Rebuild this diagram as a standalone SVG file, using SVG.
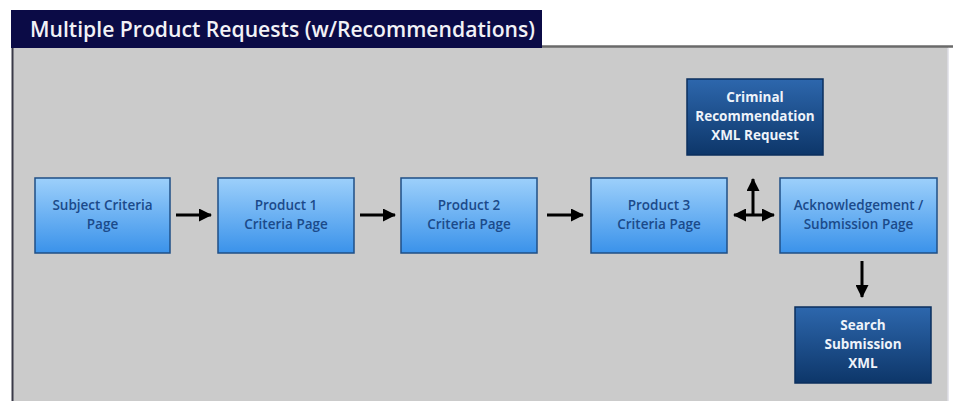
<svg xmlns="http://www.w3.org/2000/svg" width="953" height="401" viewBox="0 0 953 401">
<style>
.lt{fill:url(#gLight);stroke:#1f4f86;stroke-width:1.5}
.dk{fill:url(#gDark);stroke:#0b2f5e;stroke-width:1.5}
.tl{font-family:"Open Sans","Liberation Sans",sans-serif;font-weight:600;font-size:13.5px;fill:#1b4a8a;text-anchor:middle}
.td{font-family:"Open Sans","Liberation Sans",sans-serif;font-weight:700;font-size:13.5px;fill:#eef3fa;text-anchor:middle}
.ar{stroke:#000;stroke-width:3;fill:none}
</style>
<defs>
<linearGradient id="gLight" x1="0" y1="0" x2="0" y2="1">
<stop offset="0" stop-color="#9dd0fb"/>
<stop offset="1" stop-color="#3a92ea"/>
</linearGradient>
<linearGradient id="gDark" x1="0" y1="0" x2="0" y2="1">
<stop offset="0" stop-color="#2d67ad"/>
<stop offset="1" stop-color="#0d3669"/>
</linearGradient>
<marker id="ah" markerUnits="userSpaceOnUse" markerWidth="13" markerHeight="13" refX="12" refY="6.5" orient="auto-start-reverse">
<path d="M0,0 L13,6.5 L0,13 z" fill="#000"/>
</marker>
</defs>
<rect x="0" y="0" width="953" height="401" fill="#ffffff"/>
<g id="panel">
<rect x="12" y="46" width="936" height="360" fill="#cbcbcb"/>
<line x1="540" y1="46.5" x2="953" y2="46.5" stroke="#6a6a6a" stroke-width="2.5"/>
<line x1="12.5" y1="46" x2="12.5" y2="401" stroke="#3a3a48" stroke-width="2"/>
<line x1="948" y1="48" x2="948" y2="401" stroke="#dedee6" stroke-width="1.5"/>
</g>
<g id="title">
<rect x="11" y="10" width="531" height="38" fill="#0b0b46"/>
<text x="30" y="37" font-family="'Open Sans','Liberation Sans',sans-serif" font-weight="600" font-size="21" fill="#f2f2f6" textLength="505" lengthAdjust="spacingAndGlyphs">Multiple Product Requests (w/Recommendations)</text>
</g>
<g id="connectors">
<line class="ar" x1="176" y1="215" x2="211" y2="215" marker-end="url(#ah)"/>
<line class="ar" x1="360" y1="215" x2="395" y2="215" marker-end="url(#ah)"/>
<line class="ar" x1="547" y1="215" x2="583" y2="215" marker-end="url(#ah)"/>
<line class="ar" x1="734" y1="215" x2="774" y2="215" marker-start="url(#ah)" marker-end="url(#ah)"/>
<line class="ar" x1="753" y1="215" x2="753" y2="179" marker-end="url(#ah)"/>
<line class="ar" x1="862" y1="261" x2="862" y2="297" marker-end="url(#ah)"/>
</g>
<g id="subject">
<rect class="lt" x="35" y="178" width="135" height="75"/>
<text class="tl" x="102.5" y="210">Subject Criteria</text>
<text class="tl" x="102.5" y="229">Page</text>
</g>
<g id="product1">
<rect class="lt" x="218" y="178" width="136" height="75"/>
<text class="tl" x="286" y="210">Product 1</text>
<text class="tl" x="286" y="229">Criteria Page</text>
</g>
<g id="product2">
<rect class="lt" x="401" y="178" width="136" height="75"/>
<text class="tl" x="469" y="210">Product 2</text>
<text class="tl" x="469" y="229">Criteria Page</text>
</g>
<g id="product3">
<rect class="lt" x="591" y="178" width="136" height="75"/>
<text class="tl" x="659" y="210">Product 3</text>
<text class="tl" x="659" y="229">Criteria Page</text>
</g>
<g id="ack">
<rect class="lt" x="780" y="178" width="157" height="75"/>
<text class="tl" x="858.5" y="210">Acknowledgement /</text>
<text class="tl" x="858.5" y="229">Submission Page</text>
</g>
<g id="criminal">
<rect class="dk" x="687" y="79" width="136" height="76"/>
<text class="td" x="755" y="102">Criminal</text>
<text class="td" x="755" y="121">Recommendation</text>
<text class="td" x="755" y="140">XML Request</text>
</g>
<g id="search">
<rect class="dk" x="795" y="307" width="136" height="76"/>
<text class="td" x="863" y="330">Search</text>
<text class="td" x="863" y="349">Submission</text>
<text class="td" x="863" y="368">XML</text>
</g>
</svg>
